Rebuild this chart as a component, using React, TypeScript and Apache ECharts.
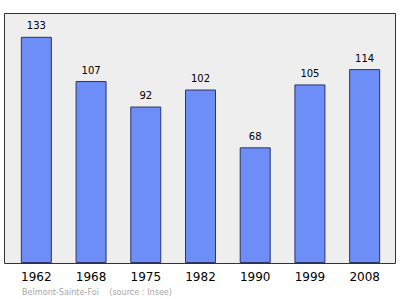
import React, { useEffect, useRef } from "react";
import * as echarts from "echarts";

const years = ["1962", "1968", "1975", "1982", "1990", "1999", "2008"];
const population = [133, 107, 92, 102, 68, 105, 114];
const footerText = "Belmont-Sainte-Foi    (source : Insee)";

export default function App() {
  const ref = useRef<HTMLDivElement>(null);

  useEffect(() => {
    if (!ref.current) return;
    const chart = echarts.init(ref.current, null, { renderer: "svg" });
    chart.setOption({
      animation: false,
      backgroundColor: "#ffffff",
      grid: { left: 9, top: 13, width: 383, height: 250, containLabel: false },
      graphic: [
        {
          type: "rect",
          z: -10,
          silent: true,
          shape: { x: 4.5, y: 13.5, width: 391, height: 250 },
          style: { fill: "#eeeeee", stroke: "#333333", lineWidth: 1 },
        },
        {
          type: "text",
          left: 22,
          top: 287,
          style: {
            text: footerText,
            fill: "#a8a8a8",
            font: "9px 'DejaVu Sans Condensed', 'DejaVu Sans', sans-serif",
          },
        },
      ],
      xAxis: {
        type: "category",
        data: years,
        axisLine: { show: false },
        axisTick: { show: false },
        axisLabel: {
          color: "#000",
          fontSize: 12,
          fontFamily: "DejaVu Sans",
          margin: 8,
        },
      },
      yAxis: {
        type: "value",
        min: 0,
        max: 147,
        show: false,
        splitLine: { show: false },
      },
      series: [
        {
          type: "bar",
          data: population,
          barWidth: 31,
          itemStyle: { color: "#6e8ef7", borderColor: "#2b3566", borderWidth: 1 },
          label: {
            show: true,
            position: "top",
            distance: 6,
            color: "#000",
            fontSize: 10,
            fontFamily: "DejaVu Sans",
          },
        },
      ],
    });
    return () => chart.dispose();
  }, []);

  return (
    <div
      ref={ref}
      style={{ position: "fixed", left: 0, top: 0, width: 400, height: 299 }}
    />
  );
}
